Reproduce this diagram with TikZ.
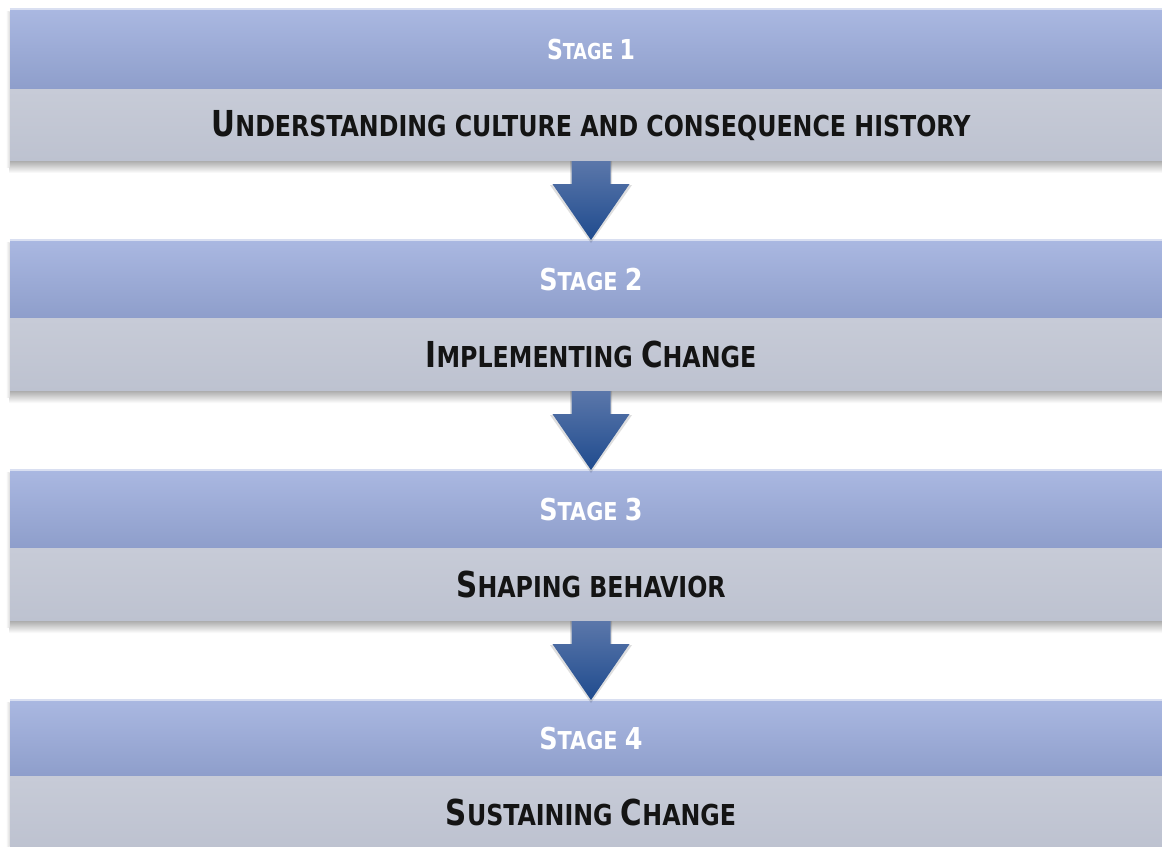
\documentclass[tikz,border=0pt]{standalone}
\usepackage{fontspec}
\newfontfamily\capsfont{DejaVu Sans Condensed}
\usetikzlibrary{calc}

\definecolor{barTop}{HTML}{AAB8E1}
\definecolor{barBot}{HTML}{8E9ECB}
\definecolor{greyTop}{HTML}{C7CBD7}
\definecolor{greyBot}{HTML}{BDC2D0}
\definecolor{arrTop}{HTML}{5B77AA}
\definecolor{arrBot}{HTML}{1F4B8E}

% small caps built by hand: capital size, then the rest
\newcommand\capbig[1]{{\fontsize{26.8pt}{26.8pt}\selectfont #1}}
\newcommand\caplow[1]{{\fontsize{21.6pt}{21.6pt}\selectfont #1}}
\newcommand\desctext[1]{\scalebox{0.915}[1]{#1}}
% stage labels: the first one is set a little smaller
\newcommand\firstlabel[1]{\scalebox{0.89}[1]{{\fontsize{20.6pt}{20.6pt}\selectfont S}{\fontsize{16.5pt}{16.5pt}\selectfont TAGE }{\fontsize{20.6pt}{20.6pt}\selectfont #1}}}
\newcommand\stagelabel[1]{\scalebox{0.94}[1]{{\fontsize{22.6pt}{22.6pt}\selectfont S}{\fontsize{18.5pt}{18.5pt}\selectfont TAGE }{\fontsize{22.6pt}{22.6pt}\selectfont #1}}}

\tikzset{
  stagebar/.style={rectangle, inner sep=0pt, minimum width=871.5pt,
    top color=barTop, bottom color=barBot, text=white,
    font=\capsfont\bfseries, anchor=north},
  descbar/.style={rectangle, inner sep=0pt, minimum width=871.5pt,
    minimum height=54pt, top color=greyTop, bottom color=greyBot,
    text=black!92, font=\capsfont\bfseries, anchor=north},
  flowarrow/.style={top color=arrTop, bottom color=arrBot},
  arrowshade/.style={fill=black, opacity=0.13},
  dropshade/.style={top color=black!32, bottom color=white},
  sideshade/.style={left color=white, right color=black!14}
}

\begin{document}
\begin{tikzpicture}[x=0.75pt,y=-0.75pt]
\useasboundingbox (0,0) rectangle (1162,846);
\clip (0,0) rectangle (1162,846);

% stage bars and their descriptions
\node[stagebar, minimum height=60pt] (s1) at (591,9) {\firstlabel{1}};
\node[descbar, minimum height=53.25pt] (d1) at (s1.south)
  {\desctext{\capbig{U}\caplow{NDERSTANDING CULTURE AND CONSEQUENCE HISTORY}}};

\node[stagebar, minimum height=58.5pt] (s2) at (591,240) {\stagelabel{2}};
\node[descbar] (d2) at (s2.south)
  {\desctext{\capbig{I}\caplow{MPLEMENTING }\capbig{C}\caplow{HANGE}}};

\node[stagebar, minimum height=58.5pt] (s3) at (591,470) {\stagelabel{3}};
\node[descbar] (d3) at (s3.south)
  {\desctext{\capbig{S}\caplow{HAPING BEHAVIOR}}};

\node[stagebar, minimum height=57pt] (s4) at (591,700) {\stagelabel{4}};
\node[descbar] (d4) at (s4.south)
  {\desctext{\capbig{S}\caplow{USTAINING }\capbig{C}\caplow{HANGE}}};

% light top edge of each stage bar
\foreach \s in {s1,s2,s3,s4}
  \draw[white!55!barTop, line width=0.8pt] (\s.north west) -- (\s.north east);

% soft shadow under and left of each block
\foreach \d in {d1,d2,d3}
  \shade[dropshade] (\d.south west) rectangle ($(\d.south east)+(0,12)$);
\foreach \s/\d in {s1/d1, s2/d2, s3/d3, s4/d4}
  \shade[sideshade] ($(\s.north west)+(-4,2)$) rectangle ($(\d.south west)+(0,6)$);

% down arrows from one stage to the next
\foreach \u/\l in {d1/s2, d2/s3, d3/s4} {
  \fill[arrowshade]
    ($(\u.south)+(-21,0)$) -- ($(\u.south)+(21,0)$) -- ($(\u.south)+(21,24)$)
    -- ($(\u.south)+(41,24)$) -- ($(\l.north)+(0,3)$) -- ($(\u.south)+(-41,24)$)
    -- ($(\u.south)+(-21,24)$) -- cycle;
  \shade[flowarrow]
    ($(\u.south)+(-19.5,0)$) -- ($(\u.south)+(19.5,0)$) -- ($(\u.south)+(19.5,23)$)
    -- ($(\u.south)+(38.5,23)$) -- (\l.north) -- ($(\u.south)+(-38.5,23)$)
    -- ($(\u.south)+(-19.5,23)$) -- cycle;
}
\end{tikzpicture}
\end{document}
